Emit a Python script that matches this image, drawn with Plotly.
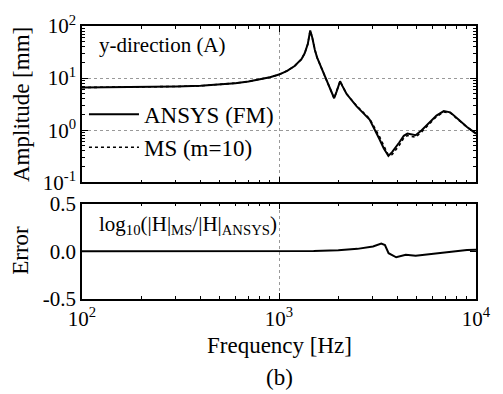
import plotly.graph_objects as go

# ---- data ----
freq_amp = [100, 200, 300, 400, 500, 600, 700, 800, 900, 1000, 1100, 1200, 1300, 1350, 1400,
            1440, 1475, 1520, 1560, 1650, 1750, 1850, 1905, 1960, 2042, 2100, 2200, 2473,
            2884, 3238, 3400, 3592, 3750, 4077, 4300, 4489, 4700, 4940, 5300, 5770, 6300,
            6860, 7400, 8150, 9000, 10000]
ansys_amp = [6.6, 6.7, 6.9, 7.1, 7.5, 8.0, 8.6, 9.4, 10.4, 11.7, 13.8, 17.0, 23.0, 30.0, 45.0,
             82.0, 60.0, 35.0, 25.0, 15.0, 8.7, 5.2, 4.1, 5.5, 8.7, 7.0, 5.0, 2.9,
             1.6, 0.67, 0.45, 0.32, 0.38, 0.58, 0.78, 0.86, 0.83, 0.80, 1.0, 1.36, 1.9,
             2.32, 2.2, 1.6, 1.15, 0.86]
ms_amp = [6.6, 6.7, 6.9, 7.1, 7.5, 8.0, 8.6, 9.4, 10.4, 11.7, 13.8, 17.0, 23.0, 30.0, 45.0,
          82.0, 60.0, 35.0, 25.0, 15.0, 8.7, 5.2, 4.1, 5.5, 8.7, 7.0, 5.0, 2.95,
          1.66, 0.75, 0.52, 0.33, 0.34, 0.51, 0.71, 0.79, 0.76, 0.73, 0.93, 1.28, 1.82,
          2.24, 2.14, 1.57, 1.14, 0.87]

freq_err = [100, 300, 1000, 1500, 2000, 2500, 3000, 3305, 3450, 3600, 3935, 4400, 4940,
            6500, 9000, 10000]
error_val = [0.0, 0.0, 0.0, 0.003, 0.01, 0.025, 0.05, 0.08, 0.065, -0.02, -0.063, -0.037,
             -0.047, -0.02, 0.014, 0.016]

x_tickvals = [100, 1000, 10000]
x_ticktext = ["10<sup>2</sup>", "10<sup>3</sup>", "10<sup>4</sup>"]
y_tickvals = [0.1, 1, 10, 100]
y_ticktext = ["10<sup>-1</sup>", "10<sup>0</sup>", "10<sup>1</sup>", "10<sup>2</sup>"]
err_tickvals = [-0.5, 0.0, 0.5]
err_ticktext = ["-0.5", "0.0", "0.5"]

x_minor = [m * 10 ** e for e in (2, 3) for m in range(2, 10)]
y_minor = [m * 10 ** e for e in (-1, 0, 1) for m in range(2, 10)]

FONT = "Liberation Serif, Times New Roman, serif"
FS = 21
FS_TITLE = 23

fig = go.Figure()
fig.add_trace(go.Scatter(x=freq_amp, y=ansys_amp, mode="lines", name="ANSYS (FM)",
                         line=dict(color="black", width=2), xaxis="x", yaxis="y"))
fig.add_trace(go.Scatter(x=freq_amp, y=ms_amp, mode="lines", name="MS (m=10)",
                         line=dict(color="black", width=1.6, dash="dot"), xaxis="x", yaxis="y"))
fig.add_trace(go.Scatter(x=freq_err, y=error_val, mode="lines", showlegend=False,
                         line=dict(color="black", width=2), xaxis="x2", yaxis="y2"))

axis_common = dict(showline=True, linecolor="black", linewidth=1.5, mirror="allticks",
                   ticks="inside", tickcolor="black", ticklen=6, tickwidth=1,
                   zeroline=False, tickfont=dict(family=FONT, size=FS, color="black"))
grid = dict(showgrid=True, gridcolor="#999", griddash="dot", gridwidth=1)

fig.update_layout(
    width=503, height=394,
    margin=dict(l=82, r=22, t=16, b=95),
    paper_bgcolor="white", plot_bgcolor="white",
    font=dict(family=FONT, size=FS, color="black"),
    xaxis=dict(type="log", range=[2, 4], domain=[0, 1], anchor="y",
               tickmode="array", tickvals=x_tickvals, ticktext=x_ticktext,
               showticklabels=False,
               minor=dict(tickmode="array", tickvals=x_minor, ticks="inside", ticklen=3,
                          tickcolor="black", showgrid=False),
               **grid, **axis_common),
    yaxis=dict(type="log", range=[-1, 2], domain=[0.4276, 1], anchor="x",
               tickmode="array", tickvals=y_tickvals, ticktext=y_ticktext,
               minor=dict(tickmode="array", tickvals=y_minor, ticks="inside", ticklen=3,
                          tickcolor="black", showgrid=False),
               **grid, **axis_common),
    xaxis2=dict(type="log", range=[2, 4], domain=[0, 1], anchor="y2",
                tickmode="array", tickvals=x_tickvals, ticktext=x_ticktext,
                minor=dict(tickmode="array", tickvals=x_minor, ticks="inside", ticklen=3,
                           tickcolor="black", showgrid=False),
                **grid, **axis_common),
    yaxis2=dict(range=[-0.5, 0.5], domain=[0, 0.3498], anchor="x2",
                tickmode="array", tickvals=err_tickvals, ticktext=err_ticktext,
                showgrid=False, **axis_common),
    legend=dict(x=0.005, y=0.755, xanchor="left", yanchor="top",
                bgcolor="rgba(0,0,0,0)", font=dict(family=FONT, size=FS_TITLE),
                tracegroupgap=0, itemwidth=50),
    showlegend=True,
)

ann = [
    dict(text="y-direction (A)", x=0.037, y=0.929, xanchor="left", yanchor="middle", size=FS),
    dict(text="log<sub>10</sub>(|H|<sub>MS</sub>/|H|<sub>ANSYS</sub>)", x=0.037, y=0.272,
         xanchor="left", yanchor="middle", size=FS),
    dict(text="Amplitude [mm]", x=-0.155, y=0.714, textangle=-90, xanchor="center",
         yanchor="middle", size=FS_TITLE),
    dict(text="Error", x=-0.155, y=0.18, textangle=-90, xanchor="center", yanchor="middle",
         size=FS_TITLE),
    dict(text="Frequency [Hz]", x=0.5, y=-0.17, xanchor="center", yanchor="middle",
         size=FS_TITLE),
    dict(text="(b)", x=0.5, y=-0.286, xanchor="center", yanchor="middle", size=FS_TITLE),
]
for a in ann:
    size = a.pop("size")
    fig.add_annotation(xref="paper", yref="paper", showarrow=False,
                       font=dict(family=FONT, size=size, color="black"), **a)

fig.write_html("out.html")
